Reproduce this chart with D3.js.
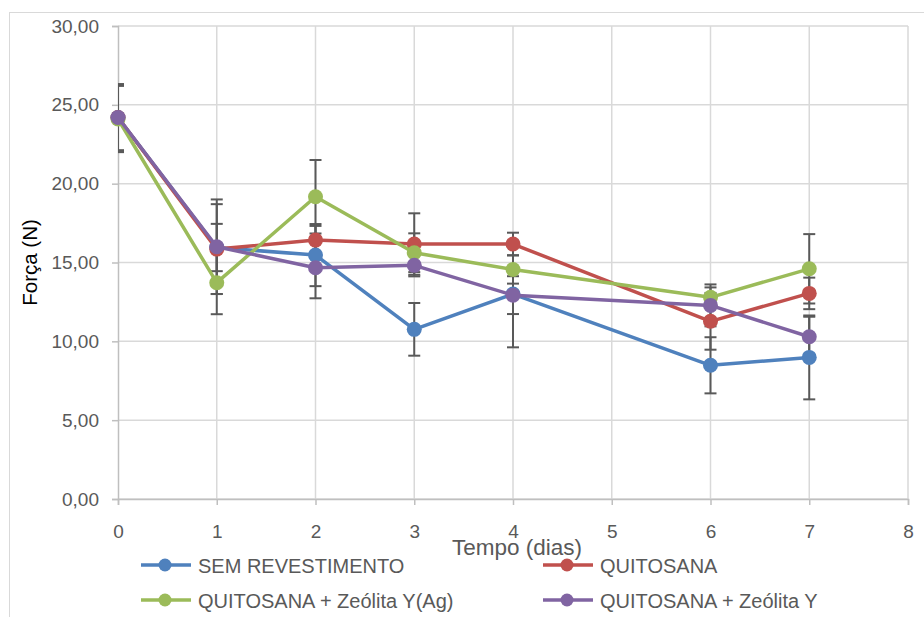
<!DOCTYPE html>
<html>
<head>
<meta charset="utf-8">
<script src="https://cdn.jsdelivr.net/npm/d3@7"></script>
<style>
body { margin: 0; background: #fff; }
text { font-family: "Liberation Sans", Arial, sans-serif; }
</style>
</head>
<body>
<div id="chart"></div>
<script>
(function() {

const width = 924, height = 617;

const days = [0, 1, 2, 3, 4, 6, 7];
const seriesNames = ["SEM REVESTIMENTO", "QUITOSANA", "QUITOSANA + Zeólita Y(Ag)", "QUITOSANA + Zeólita Y"];
const seriesColors = ["#4f81bd", "#c0504d", "#9bbb59", "#8064a2"];

const semRev = [24.2, 15.95, 15.47, 10.76, 13.0, 8.48, 8.98];
const semRevErr = [2.1, 1.5, 1.97, 1.67, 3.38, 1.78, 2.66];
const quit = [24.2, 15.85, 16.42, 16.17, 16.17, 11.27, 13.04];
const quitErr = [2.1, 2.85, 0.9, 1.95, 0.72, 1.8, 1.0];
const zeoAg = [24.1, 13.72, 19.17, 15.62, 14.56, 12.79, 14.6];
const zeoAgErr = [2.1, 2.0, 2.33, 1.23, 0.9, 0.63, 2.2];
const zeo = [24.2, 16.0, 14.67, 14.82, 12.93, 12.28, 10.29];
const zeoErr = [2.1, 3.0, 1.94, 0.7, 1.2, 1.33, 1.27];

const xTicks = [0, 1, 2, 3, 4, 5, 6, 7, 8];
const yTicks = [0, 5, 10, 15, 20, 25, 30];

const values = [semRev, quit, zeoAg, zeo];
const errors = [semRevErr, quitErr, zeoAgErr, zeoErr];
const series = seriesNames.map((name, i) => ({
  name: name,
  color: seriesColors[i],
  points: days.map((d, j) => ({ x: d, y: values[i][j], e: errors[i][j] }))
}));

const svg = d3.select("#chart")
  .append("svg")
  .attr("width", width)
  .attr("height", height);

// outer chart border
svg.append("rect")
  .attr("x", 9.5).attr("y", 12.5)
  .attr("width", 930).attr("height", 640)
  .attr("fill", "none")
  .attr("stroke", "#d9d9d9");

const x = d3.scaleLinear().domain([0, 8]).range([118, 908]);
const y = d3.scaleLinear().domain([0, 30]).range([499, 26]);

const fmt = v => d3.format(".2f")(v).replace(".", ",");

// grid
svg.append("g")
  .selectAll("line")
  .data(yTicks)
  .join("line")
  .attr("x1", x(0)).attr("x2", x(8))
  .attr("y1", d => y(d)).attr("y2", d => y(d))
  .attr("stroke", "#d9d9d9")
  .attr("stroke-width", 1.5);

svg.append("g")
  .selectAll("line")
  .data(xTicks.slice(1))
  .join("line")
  .attr("x1", d => x(d)).attr("x2", d => x(d))
  .attr("y1", y(0)).attr("y2", y(30))
  .attr("stroke", "#d9d9d9")
  .attr("stroke-width", 1.5);

// axes
const yAxis = svg.append("g")
  .attr("transform", `translate(${x(0)},0)`)
  .call(d3.axisLeft(y).tickValues(yTicks).tickFormat(fmt).tickSize(6).tickPadding(13));
const xAxis = svg.append("g")
  .attr("transform", `translate(0,${y(0)})`)
  .call(d3.axisBottom(x).tickValues(xTicks).tickSize(6));

[yAxis, xAxis].forEach(a => {
  a.select(".domain").attr("stroke", "#bfbfbf").attr("stroke-width", 1.5);
  a.selectAll(".tick line").attr("stroke", "#bfbfbf").attr("stroke-width", 1.5);
  a.selectAll(".tick text")
    .attr("fill", "#595959")
    .style("font-size", "19px")
    .style("font-family", "'Liberation Sans', Arial, sans-serif");
});
xAxis.selectAll(".tick text").attr("y", 39).attr("dy", null);

// axis titles
svg.append("text")
  .attr("transform", `translate(37,${(y(0) + y(30)) / 2}) rotate(-90)`)
  .attr("text-anchor", "middle")
  .attr("fill", "#000")
  .style("font-size", "20.5px")
  .text("Força (N)");

svg.append("text")
  .attr("x", 517).attr("y", 555)
  .attr("text-anchor", "middle")
  .attr("fill", "#595959")
  .style("font-size", "22.5px")
  .text("Tempo (dias)");

// clip error bars to plot area
svg.append("clipPath").attr("id", "plotclip")
  .append("rect")
  .attr("x", x(0)).attr("y", 0)
  .attr("width", x(8) - x(0)).attr("height", y(0));

const errG = svg.append("g").attr("clip-path", "url(#plotclip)");
series.forEach(s => {
  const g = errG.append("g");
  g.selectAll("line.bar")
    .data(s.points)
    .join("line")
    .attr("class", "bar")
    .attr("x1", d => x(d.x)).attr("x2", d => x(d.x))
    .attr("y1", d => y(d.y + d.e)).attr("y2", d => y(d.y - d.e))
    .attr("stroke", "#595959").attr("stroke-width", 2);
  g.selectAll("line.capt")
    .data(s.points)
    .join("line")
    .attr("class", "capt")
    .attr("x1", d => x(d.x) - 6).attr("x2", d => x(d.x) + 6)
    .attr("y1", d => y(d.y + d.e)).attr("y2", d => y(d.y + d.e))
    .attr("stroke", "#595959").attr("stroke-width", 2);
  g.selectAll("line.capb")
    .data(s.points)
    .join("line")
    .attr("class", "capb")
    .attr("x1", d => x(d.x) - 6).attr("x2", d => x(d.x) + 6)
    .attr("y1", d => y(d.y - d.e)).attr("y2", d => y(d.y - d.e))
    .attr("stroke", "#595959").attr("stroke-width", 2);
});

const line = d3.line().x(d => x(d.x)).y(d => y(d.y));

series.forEach(s => {
  svg.append("path")
    .datum(s.points)
    .attr("fill", "none")
    .attr("stroke", s.color)
    .attr("stroke-width", 3.5)
    .attr("stroke-linejoin", "round")
    .attr("d", line);
  svg.append("g")
    .selectAll("circle")
    .data(s.points)
    .join("circle")
    .attr("cx", d => x(d.x))
    .attr("cy", d => y(d.y))
    .attr("r", 7.5)
    .attr("fill", s.color);
});

// legend
const legendPos = [[141, 565], [543, 565], [141, 600], [543, 600]];
const legend = svg.append("g")
  .selectAll("g")
  .data(series)
  .join("g")
  .attr("transform", (d, i) => `translate(${legendPos[i][0]},${legendPos[i][1]})`);

legend.append("line")
  .attr("x1", 0).attr("x2", 50)
  .attr("stroke", d => d.color)
  .attr("stroke-width", 3.5);
legend.append("circle")
  .attr("cx", 24).attr("r", 6.5)
  .attr("fill", d => d.color);
legend.append("text")
  .attr("x", 57).attr("y", 7.5)
  .attr("fill", "#595959")
  .style("font-size", "20px")
  .text(d => d.name);

})();
</script>
</body>
</html>
